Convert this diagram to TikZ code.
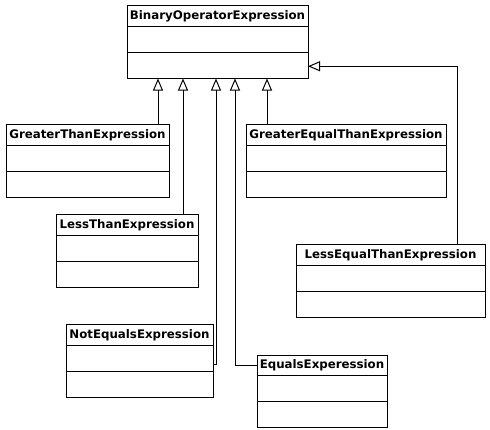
\documentclass[tikz,border=0pt]{standalone}
\usepackage{fontspec}
\setmainfont{DejaVu Sans}
\usetikzlibrary{arrows.meta,shapes.multipart}
\tikzset{
    uml/diagram/.style={
        x=1pt, y=-1pt,
        line width=1pt,
        line cap=rect,
        every node/.style={outer sep=0pt}
    },
    uml/class/.style={
        rectangle split, rectangle split parts=3,
        rectangle split ignore empty parts=false,
        rectangle split empty part height=17pt,
        rectangle split empty part depth=0pt,
        draw, line width=1pt, anchor=north west,
        font=\bfseries\fontsize{11.8}{14}\selectfont,
        inner xsep=2pt, inner ysep=4pt
    },
    uml/generalization/.style={
        draw, line width=1pt,
        -{Triangle[open, length=12pt, width=10pt]}
    }
}

\begin{document}
\begin{tikzpicture}[uml/diagram]
    \useasboundingbox (0,0) rectangle (490,430);
    % classes
    \node[uml/class, minimum width=181pt] (binop) at (127,6)
        {BinaryOperatorExpression\nodepart{second}\nodepart{third}};
    \node[uml/class, minimum width=163pt] (gt) at (6,125)
        {GreaterThanExpression\nodepart{second}\nodepart{third}};
    \node[uml/class, minimum width=200pt] (ge) at (246,125)
        {GreaterEqualThanExpression\nodepart{second}\nodepart{third}};
    \node[uml/class, minimum width=142pt] (lt) at (56,215)
        {LessThanExpression\nodepart{second}\nodepart{third}};
    \node[uml/class, minimum width=189pt] (le) at (296,245)
        {LessEqualThanExpression\nodepart{second}\nodepart{third}};
    \node[uml/class, minimum width=147pt] (ne) at (66,325)
        {NotEqualsExpression\nodepart{second}\nodepart{third}};
    \node[uml/class, minimum width=130pt] (eq) at (257,355)
        {EqualsExperession\nodepart{second}\nodepart{third}};
    % generalizations
    \draw[uml/generalization] ([xshift=-11pt]gt.north east)
        -- ([xshift=-11pt]gt.north east |- binop.south);
    \draw[uml/generalization] ([xshift=-15pt]lt.north east)
        -- ([xshift=-15pt]lt.north east |- binop.south);
    \draw[uml/generalization] ([yshift=-3pt]ne.east)
        -| ([xshift=89pt]binop.south west);
    \draw[uml/generalization] ([yshift=26pt]eq.west)
        -| ([xshift=108pt]binop.south west);
    \draw[uml/generalization] ([xshift=21pt]ge.north west)
        -- ([xshift=21pt]ge.north west |- binop.south);
    \draw[uml/generalization] ([xshift=-28pt]le.north east)
        |- ([yshift=-24pt]binop.east);
\end{tikzpicture}
\end{document}
